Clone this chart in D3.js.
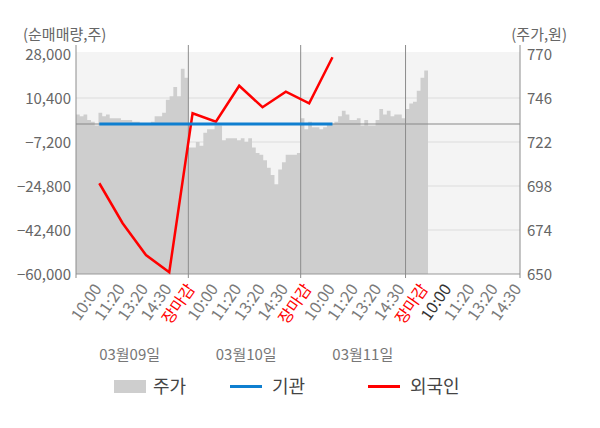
<!DOCTYPE html>
<html>
<head>
<meta charset="utf-8">
<script src="https://cdn.jsdelivr.net/npm/d3@7"></script>
<style>
  body { margin: 0; background: #fff; }
  text { font-family: "Noto Sans CJK KR", "Noto Sans", sans-serif; }
</style>
</head>
<body>
<div class="canva"></div>
<script>
// x axis labels (one per slot, slot 0 is empty)
const timeLabels = ["10:00", "11:20", "13:20", "14:30", "장마감",
  "10:00", "11:20", "13:20", "14:30", "장마감",
  "10:00", "11:20", "13:20", "14:30", "장마감",
  "10:00", "11:20", "13:20", "14:30"];
const dateLabels = ["03월09일", "03월10일", "03월11일"];

// net buying (shares), slots 1..11
const foreign = [-23700, -39700, -52400, -59300, 4300, 900, 15300, 6700, 12900, 8300, 26700];
const institution = [0, 0, 0, 0, 0, 0, 0, 0, 0, 0, 0];

const leftTicks = [28000, 10400, -7200, -24800, -42400, -60000];
const rightTicks = [770, 746, 722, 698, 674, 650];

// intraday price (won)
const price0309 = [737, 736, 737, 734, 733, 731, 738, 736, 737, 735, 735, 735, 734, 734, 734,
  733, 733, 732, 732, 732, 733, 736, 736, 738, 745, 747, 752, 747, 762, 757];
const price0310 = [719, 719, 722, 720, 727, 729, 729, 731, 731, 723, 724, 724, 724, 723, 724,
  722, 724, 719, 716, 715, 712, 708, 704, 699, 707, 711, 715, 715, 715, 716];
const price0311 = [735, 729, 733, 730, 730, 729, 730, 732, 732, 733, 736, 739, 737, 734, 734,
  735, 731, 734, 731, 731, 734, 740, 737, 739, 736, 737, 737, 735];
const price0312 = [740, 743, 744, 750, 757, 761];

const svg = d3.select(".canva").append("svg").attr("width", 600).attr("height", 428);

const pLeft = 76, pRight = 520, pTop = 54, pBottom = 274;

const slot = d3.scaleLinear().domain([0, 19]).range([pLeft, 519]);
const yLeft = d3.scaleLinear().domain([-60000, 28000]).range([pBottom, pTop]);
const yRight = d3.scaleLinear().domain([650, 770]).range([pBottom, pTop]);

const prices = price0309.concat(price0310, price0311, price0312);
const xPrice = d3.scaleLinear().domain([0, 94]).range([pLeft, 428]);

// plot background
svg.append("rect")
  .attr("x", pLeft).attr("y", pTop - 2)
  .attr("width", pRight - pLeft).attr("height", pBottom - pTop + 2)
  .attr("fill", "#f4f4f4");

// grid lines
svg.selectAll(".grid")
  .data(leftTicks.slice(1, -1))
  .enter().append("line")
  .attr("x1", pLeft).attr("x2", pRight)
  .attr("y1", d => yLeft(d)).attr("y2", d => yLeft(d))
  .attr("stroke", "#dcdcdc");

// price area
const areaData = prices.concat([prices[prices.length - 1]]);
svg.append("path")
  .datum(areaData)
  .attr("fill", "#cecece")
  .attr("d", d3.area()
    .x((d, i) => xPrice(i))
    .y0(yRight(650))
    .y1(d => yRight(d))
    .curve(d3.curveStepAfter));

// zero line
svg.append("line")
  .attr("x1", pLeft).attr("x2", pRight)
  .attr("y1", yLeft(0)).attr("y2", yLeft(0))
  .attr("stroke", "#888");

// bottom axis line
svg.append("line")
  .attr("x1", pLeft).attr("x2", pRight)
  .attr("y1", pBottom).attr("y2", pBottom)
  .attr("stroke", "#999");

// day dividers + side axes
const dayStarts = [price0309.length, price0309.length + price0310.length,
  price0309.length + price0310.length + price0311.length];
const vlines = [pLeft, pRight].concat(dayStarts.map(d => xPrice(d)));
svg.selectAll(".vline")
  .data(vlines)
  .enter().append("line")
  .attr("x1", d => d).attr("x2", d => d)
  .attr("y1", pTop - 9).attr("y2", pBottom + 4)
  .attr("stroke", "#8c8c8c");

// foreign line
const line = d3.line()
  .x((d, i) => slot(i + 1))
  .y(d => yLeft(d));

svg.append("path")
  .datum(foreign)
  .attr("fill", "none")
  .attr("stroke", "#ff0000")
  .attr("stroke-width", 2.5)
  .attr("d", line);

// institution line
svg.append("path")
  .datum(institution)
  .attr("fill", "none")
  .attr("stroke", "#0f7fd0")
  .attr("stroke-width", 3)
  .attr("d", line);

// left axis labels
svg.selectAll(".lt")
  .data(leftTicks)
  .enter().append("text")
  .text(d => d3.format(",")(d))
  .attr("x", pLeft - 5)
  .attr("y", d => yLeft(d))
  .attr("dy", "0.4em")
  .attr("text-anchor", "end")
  .attr("font-size", 15)
  .attr("fill", "#666");

// right axis labels
svg.selectAll(".rt")
  .data(rightTicks)
  .enter().append("text")
  .text(d => d)
  .attr("x", pRight + 7)
  .attr("y", d => yRight(d))
  .attr("dy", "0.4em")
  .attr("text-anchor", "start")
  .attr("font-size", 15)
  .attr("fill", "#666");

// axis titles
svg.append("text")
  .text("(순매매량,주)")
  .attr("x", 23).attr("y", 40)
  .attr("font-size", 15)
  .attr("fill", "#666");

svg.append("text")
  .text("(주가,원)")
  .attr("x", 567).attr("y", 40)
  .attr("text-anchor", "end")
  .attr("font-size", 15)
  .attr("fill", "#666");

// time labels
svg.selectAll(".tl")
  .data(timeLabels)
  .enter().append("text")
  .text(d => d)
  .attr("transform", (d, i) => `translate(${slot(i + 1) + 3},${pBottom + 15}) rotate(-55)`)
  .attr("text-anchor", "end")
  .attr("font-size", 16)
  .attr("fill", (d, i) => d === "장마감" ? "#ff0000" : (i === 15 ? "#333" : "#7a7a7a"));

// date labels
svg.selectAll(".dl")
  .data(dateLabels)
  .enter().append("text")
  .text(d => d)
  .attr("x", (d, i) => slot(2.3 + i * 5))
  .attr("y", 360)
  .attr("text-anchor", "middle")
  .attr("font-size", 15)
  .attr("fill", "#777");

// legend
const legend = svg.append("g");
legend.append("rect")
  .attr("x", 114).attr("y", 380)
  .attr("width", 32).attr("height", 13)
  .attr("fill", "#cecece");
legend.append("text")
  .text("주가")
  .attr("x", 153).attr("y", 393)
  .attr("font-size", 18).attr("fill", "#444");

legend.append("line")
  .attr("x1", 230).attr("x2", 262)
  .attr("y1", 386.5).attr("y2", 386.5)
  .attr("stroke", "#0f7fd0").attr("stroke-width", 3);
legend.append("text")
  .text("기관")
  .attr("x", 272).attr("y", 393)
  .attr("font-size", 18).attr("fill", "#444");

legend.append("line")
  .attr("x1", 368).attr("x2", 400)
  .attr("y1", 386.5).attr("y2", 386.5)
  .attr("stroke", "#ff0000").attr("stroke-width", 3);
legend.append("text")
  .text("외국인")
  .attr("x", 410).attr("y", 393)
  .attr("font-size", 18).attr("fill", "#444");
</script>
</body>
</html>
